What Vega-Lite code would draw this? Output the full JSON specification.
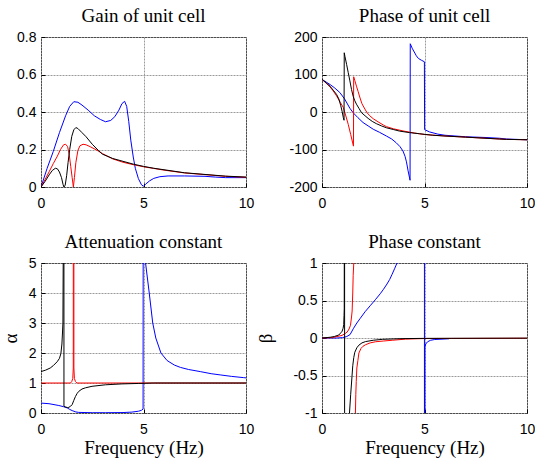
{
  "$schema": "https://vega.github.io/schema/vega-lite/v6.json",
  "padding": {"left": 0, "top": 6, "right": 0, "bottom": 0},
  "background": "#ffffff",
  "bounds": "flush",
  "columns": 2,
  "spacing": 76,
  "datasets": {
    "g": [
      {"s":"b","f":0,"v":0},{"s":"b","f":0.3,"v":0.1},{"s":"b","f":0.6,"v":0.19},{"s":"b","f":0.9,"v":0.29},{"s":"b","f":1.2,"v":0.38},{"s":"b","f":1.4,"v":0.43},{"s":"b","f":1.6,"v":0.455},{"s":"b","f":1.8,"v":0.452},{"s":"b","f":2.0,"v":0.437},{"s":"b","f":2.3,"v":0.41},{"s":"b","f":2.6,"v":0.38},{"s":"b","f":2.9,"v":0.36},{"s":"b","f":3.15,"v":0.348},{"s":"b","f":3.4,"v":0.355},{"s":"b","f":3.6,"v":0.375},{"s":"b","f":3.8,"v":0.41},{"s":"b","f":3.95,"v":0.445},{"s":"b","f":4.08,"v":0.457},{"s":"b","f":4.18,"v":0.43},{"s":"b","f":4.28,"v":0.35},{"s":"b","f":4.38,"v":0.25},{"s":"b","f":4.5,"v":0.16},{"s":"b","f":4.6,"v":0.1},{"s":"b","f":4.75,"v":0.045},{"s":"b","f":4.9,"v":0.012},{"s":"b","f":5.0,"v":0.004},{"s":"b","f":5.1,"v":0.015},{"s":"b","f":5.3,"v":0.033},{"s":"b","f":5.5,"v":0.046},{"s":"b","f":5.8,"v":0.055},{"s":"b","f":6.2,"v":0.059},{"s":"b","f":7.0,"v":0.059},{"s":"b","f":8.0,"v":0.057},{"s":"b","f":8.5,"v":0.053},{"s":"b","f":9.0,"v":0.05},{"s":"b","f":10,"v":0.05},
      {"s":"r","f":0,"v":0},{"s":"r","f":0.2,"v":0.04},{"s":"r","f":0.4,"v":0.082},{"s":"r","f":0.6,"v":0.125},{"s":"r","f":0.8,"v":0.165},{"s":"r","f":0.95,"v":0.2},{"s":"r","f":1.1,"v":0.225},{"s":"r","f":1.2,"v":0.228},{"s":"r","f":1.3,"v":0.215},{"s":"r","f":1.38,"v":0.17},{"s":"r","f":1.45,"v":0.11},{"s":"r","f":1.52,"v":0.05},{"s":"r","f":1.58,"v":0.0},{"s":"r","f":1.63,"v":0.05},{"s":"r","f":1.7,"v":0.13},{"s":"r","f":1.8,"v":0.195},{"s":"r","f":1.9,"v":0.22},{"s":"r","f":2.05,"v":0.228},{"s":"r","f":2.2,"v":0.225},{"s":"r","f":2.4,"v":0.215},{"s":"r","f":2.7,"v":0.198},{"s":"r","f":3.0,"v":0.178},{"s":"r","f":3.5,"v":0.15},{"s":"r","f":4.0,"v":0.132},{"s":"r","f":4.5,"v":0.119},{"s":"r","f":5.0,"v":0.108},{"s":"r","f":5.5,"v":0.099},{"s":"r","f":6.0,"v":0.09},{"s":"r","f":7.0,"v":0.075},{"s":"r","f":8.0,"v":0.066},{"s":"r","f":9.0,"v":0.057},{"s":"r","f":10,"v":0.052},
      {"s":"k","f":0,"v":0},{"s":"k","f":0.2,"v":0.03},{"s":"k","f":0.4,"v":0.065},{"s":"k","f":0.55,"v":0.088},{"s":"k","f":0.7,"v":0.1},{"s":"k","f":0.8,"v":0.097},{"s":"k","f":0.9,"v":0.08},{"s":"k","f":1.0,"v":0.05},{"s":"k","f":1.08,"v":0.012},{"s":"k","f":1.12,"v":0.0},{"s":"k","f":1.18,"v":0.01},{"s":"k","f":1.25,"v":0.06},{"s":"k","f":1.32,"v":0.13},{"s":"k","f":1.4,"v":0.2},{"s":"k","f":1.5,"v":0.27},{"s":"k","f":1.6,"v":0.305},{"s":"k","f":1.7,"v":0.317},{"s":"k","f":1.8,"v":0.312},{"s":"k","f":2.0,"v":0.29},{"s":"k","f":2.2,"v":0.268},{"s":"k","f":2.5,"v":0.228},{"s":"k","f":2.8,"v":0.195},{"s":"k","f":3.0,"v":0.175},{"s":"k","f":3.5,"v":0.152},{"s":"k","f":4.0,"v":0.137},{"s":"k","f":4.5,"v":0.122},{"s":"k","f":5.0,"v":0.11},{"s":"k","f":5.5,"v":0.1},{"s":"k","f":6.0,"v":0.092},{"s":"k","f":7.0,"v":0.076},{"s":"k","f":8.0,"v":0.067},{"s":"k","f":9.0,"v":0.058},{"s":"k","f":10,"v":0.053}
    ],
    "ph": [
      {"s":"b","f":0,"v":87},{"s":"b","f":0.2,"v":80},{"s":"b","f":0.4,"v":73},{"s":"b","f":0.6,"v":65},{"s":"b","f":0.87,"v":52},{"s":"b","f":1.1,"v":35},{"s":"b","f":1.36,"v":10},{"s":"b","f":1.52,"v":-2},{"s":"b","f":1.75,"v":-15},{"s":"b","f":2.0,"v":-28},{"s":"b","f":2.25,"v":-37},{"s":"b","f":2.5,"v":-46},{"s":"b","f":2.8,"v":-54},{"s":"b","f":3.14,"v":-64},{"s":"b","f":3.4,"v":-72},{"s":"b","f":3.62,"v":-82},{"s":"b","f":3.8,"v":-92},{"s":"b","f":3.95,"v":-104},{"s":"b","f":4.05,"v":-118},{"s":"b","f":4.12,"v":-133},{"s":"b","f":4.2,"v":-157},{"s":"b","f":4.295,"v":-182},{"s":"b","f":4.305,"v":182},{"s":"b","f":4.4,"v":170},{"s":"b","f":4.5,"v":160},{"s":"b","f":4.6,"v":150},{"s":"b","f":4.7,"v":143},{"s":"b","f":4.85,"v":138},{"s":"b","f":4.995,"v":134},{"s":"b","f":5.005,"v":-47},{"s":"b","f":5.24,"v":-53},{"s":"b","f":5.65,"v":-59},{"s":"b","f":6.0,"v":-62},{"s":"b","f":7.0,"v":-66},{"s":"b","f":8.0,"v":-68},{"s":"b","f":8.66,"v":-70},{"s":"b","f":9.0,"v":-72},{"s":"b","f":10,"v":-74},
      {"s":"r","f":0,"v":87},{"s":"r","f":0.2,"v":77},{"s":"r","f":0.39,"v":67},{"s":"r","f":0.55,"v":56},{"s":"r","f":0.71,"v":43},{"s":"r","f":0.9,"v":25},{"s":"r","f":1.04,"v":12},{"s":"r","f":1.15,"v":-8},{"s":"r","f":1.28,"v":-33},{"s":"r","f":1.4,"v":-60},{"s":"r","f":1.535,"v":-91},{"s":"r","f":1.545,"v":94},{"s":"r","f":1.6,"v":84},{"s":"r","f":1.68,"v":69},{"s":"r","f":1.76,"v":55},{"s":"r","f":1.84,"v":40},{"s":"r","f":1.95,"v":22},{"s":"r","f":2.09,"v":8},{"s":"r","f":2.2,"v":-2},{"s":"r","f":2.33,"v":-10},{"s":"r","f":2.5,"v":-18},{"s":"r","f":2.73,"v":-26},{"s":"r","f":3.0,"v":-35},{"s":"r","f":3.14,"v":-39},{"s":"r","f":3.5,"v":-45},{"s":"r","f":4.0,"v":-51},{"s":"r","f":4.5,"v":-56},{"s":"r","f":5,"v":-60},{"s":"r","f":6,"v":-64},{"s":"r","f":7,"v":-67},{"s":"r","f":8,"v":-70},{"s":"r","f":9,"v":-73},{"s":"r","f":10,"v":-74},
      {"s":"k","f":0,"v":87},{"s":"k","f":0.2,"v":78},{"s":"k","f":0.39,"v":69},{"s":"k","f":0.55,"v":58},{"s":"k","f":0.71,"v":47},{"s":"k","f":0.82,"v":35},{"s":"k","f":0.91,"v":18},{"s":"k","f":0.98,"v":2},{"s":"k","f":1.04,"v":-15},{"s":"k","f":1.075,"v":-22},{"s":"k","f":1.085,"v":158},{"s":"k","f":1.12,"v":148},{"s":"k","f":1.2,"v":127},{"s":"k","f":1.28,"v":105},{"s":"k","f":1.36,"v":83},{"s":"k","f":1.44,"v":60},{"s":"k","f":1.52,"v":42},{"s":"k","f":1.6,"v":30},{"s":"k","f":1.68,"v":21},{"s":"k","f":1.8,"v":10},{"s":"k","f":1.93,"v":-2},{"s":"k","f":2.1,"v":-10},{"s":"k","f":2.25,"v":-17},{"s":"k","f":2.45,"v":-25},{"s":"k","f":2.65,"v":-31},{"s":"k","f":2.9,"v":-37},{"s":"k","f":3.14,"v":-42},{"s":"k","f":3.5,"v":-47},{"s":"k","f":3.79,"v":-51},{"s":"k","f":4.27,"v":-55},{"s":"k","f":4.76,"v":-58},{"s":"k","f":5.4,"v":-62},{"s":"k","f":6,"v":-64},{"s":"k","f":7,"v":-67},{"s":"k","f":8,"v":-70},{"s":"k","f":8.66,"v":-72},{"s":"k","f":9,"v":-73},{"s":"k","f":10,"v":-74}
    ],
    "a": [
      {"s":"b","f":0,"v":0.33},{"s":"b","f":0.39,"v":0.31},{"s":"b","f":0.87,"v":0.25},{"s":"b","f":1.1,"v":0.21},{"s":"b","f":1.28,"v":0.17},{"s":"b","f":1.4,"v":0.12},{"s":"b","f":1.52,"v":0.08},{"s":"b","f":1.7,"v":0.035},{"s":"b","f":1.84,"v":0.02},{"s":"b","f":2.5,"v":0.01},{"s":"b","f":3.14,"v":0.01},{"s":"b","f":4.0,"v":0.015},{"s":"b","f":4.43,"v":0.03},{"s":"b","f":4.76,"v":0.06},{"s":"b","f":4.9,"v":0.09},{"s":"b","f":4.98,"v":0.13},{"s":"b","f":5.02,"v":60},{"s":"b","f":5.1,"v":5.0},{"s":"b","f":5.28,"v":4.0},{"s":"b","f":5.45,"v":3.0},{"s":"b","f":5.6,"v":2.5},{"s":"b","f":5.85,"v":2.0},{"s":"b","f":6.15,"v":1.75},{"s":"b","f":6.5,"v":1.6},{"s":"b","f":6.8,"v":1.52},{"s":"b","f":7.2,"v":1.45},{"s":"b","f":7.77,"v":1.38},{"s":"b","f":8.3,"v":1.31},{"s":"b","f":8.74,"v":1.27},{"s":"b","f":9.3,"v":1.22},{"s":"b","f":9.87,"v":1.18},{"s":"b","f":10,"v":1.17},
      {"s":"r","f":0,"v":1.0},{"s":"r","f":1.44,"v":1.0},{"s":"r","f":1.5,"v":1.05},{"s":"r","f":1.55,"v":1.15},{"s":"r","f":1.575,"v":1.5},{"s":"r","f":1.59,"v":60},{"s":"r","f":1.605,"v":1.5},{"s":"r","f":1.63,"v":1.15},{"s":"r","f":1.68,"v":1.05},{"s":"r","f":1.75,"v":1.0},{"s":"r","f":10,"v":1.0},
      {"s":"k","f":0,"v":1.38},{"s":"k","f":0.23,"v":1.43},{"s":"k","f":0.45,"v":1.5},{"s":"k","f":0.6,"v":1.58},{"s":"k","f":0.79,"v":1.71},{"s":"k","f":0.9,"v":1.82},{"s":"k","f":0.97,"v":1.98},{"s":"k","f":1.02,"v":2.3},{"s":"k","f":1.05,"v":2.7},{"s":"k","f":1.07,"v":3.0},{"s":"k","f":1.09,"v":6},{"s":"k","f":1.1,"v":60},{"s":"k","f":1.12,"v":0.22},{"s":"k","f":1.2,"v":0.2},{"s":"k","f":1.3,"v":0.18},{"s":"k","f":1.36,"v":0.19},{"s":"k","f":1.45,"v":0.23},{"s":"k","f":1.52,"v":0.28},{"s":"k","f":1.6,"v":0.42},{"s":"k","f":1.68,"v":0.55},{"s":"k","f":1.76,"v":0.65},{"s":"k","f":1.84,"v":0.72},{"s":"k","f":2.0,"v":0.8},{"s":"k","f":2.17,"v":0.84},{"s":"k","f":2.49,"v":0.89},{"s":"k","f":3.14,"v":0.94},{"s":"k","f":3.95,"v":0.97},{"s":"k","f":4.76,"v":0.985},{"s":"k","f":5.5,"v":1.0},{"s":"k","f":10,"v":1.0}
    ],
    "be": [
      {"s":"b","f":0,"v":0},{"s":"b","f":0.72,"v":0.0},{"s":"b","f":1.0,"v":0.005},{"s":"b","f":1.21,"v":0.02},{"s":"b","f":1.37,"v":0.046},{"s":"b","f":1.54,"v":0.13},{"s":"b","f":1.7,"v":0.2},{"s":"b","f":1.86,"v":0.26},{"s":"b","f":2.1,"v":0.35},{"s":"b","f":2.35,"v":0.43},{"s":"b","f":2.6,"v":0.51},{"s":"b","f":2.84,"v":0.59},{"s":"b","f":3.0,"v":0.65},{"s":"b","f":3.17,"v":0.72},{"s":"b","f":3.3,"v":0.78},{"s":"b","f":3.42,"v":0.85},{"s":"b","f":3.55,"v":0.93},{"s":"b","f":3.66,"v":1.0},{"s":"b","f":3.8,"v":1.1},{"s":"b","f":4.5,"v":1.8},{"s":"b","f":4.995,"v":60},{"s":"b","f":5.0,"v":-60},{"s":"b","f":5.02,"v":-0.12},{"s":"b","f":5.06,"v":-0.08},{"s":"b","f":5.15,"v":-0.05},{"s":"b","f":5.3,"v":-0.03},{"s":"b","f":5.5,"v":-0.02},{"s":"b","f":6.2,"v":-0.01},
      {"s":"r","f":0,"v":0},{"s":"r","f":0.5,"v":0.005},{"s":"r","f":0.98,"v":0.035},{"s":"r","f":1.13,"v":0.06},{"s":"r","f":1.23,"v":0.08},{"s":"r","f":1.32,"v":0.12},{"s":"r","f":1.39,"v":0.17},{"s":"r","f":1.44,"v":0.28},{"s":"r","f":1.47,"v":0.36},{"s":"r","f":1.5,"v":0.6},{"s":"r","f":1.52,"v":0.83},{"s":"r","f":1.55,"v":1.0},{"s":"r","f":1.58,"v":2.0},
      {"s":"r2","f":1.62,"v":-2},{"s":"r2","f":1.63,"v":-1.0},{"s":"r2","f":1.65,"v":-0.75},{"s":"r2","f":1.67,"v":-0.58},{"s":"r2","f":1.7,"v":-0.4},{"s":"r2","f":1.75,"v":-0.3},{"s":"r2","f":1.8,"v":-0.2},{"s":"r2","f":1.9,"v":-0.14},{"s":"r2","f":2.0,"v":-0.11},{"s":"r2","f":2.12,"v":-0.09},{"s":"r2","f":2.35,"v":-0.065},{"s":"r2","f":2.61,"v":-0.05},{"s":"r2","f":3.0,"v":-0.04},{"s":"r2","f":3.43,"v":-0.03},{"s":"r2","f":4.08,"v":-0.015},{"s":"r2","f":5,"v":-0.007},{"s":"r2","f":10,"v":-0.003},
      {"s":"k","f":0,"v":0},{"s":"k","f":0.4,"v":0.01},{"s":"k","f":0.6,"v":0.02},{"s":"k","f":0.82,"v":0.04},{"s":"k","f":0.92,"v":0.07},{"s":"k","f":0.98,"v":0.09},{"s":"k","f":1.03,"v":0.13},{"s":"k","f":1.06,"v":0.18},{"s":"k","f":1.075,"v":0.3},{"s":"k","f":1.085,"v":0.39},{"s":"k","f":1.095,"v":3},{"s":"k","f":1.1,"v":60},{"s":"k","f":1.105,"v":-60},{"s":"k","f":1.3,"v":-1.6},{"s":"k","f":1.34,"v":-1.0},{"s":"k","f":1.4,"v":-0.75},{"s":"k","f":1.44,"v":-0.6},{"s":"k","f":1.5,"v":-0.37},{"s":"k","f":1.55,"v":-0.26},{"s":"k","f":1.6,"v":-0.19},{"s":"k","f":1.7,"v":-0.13},{"s":"k","f":1.8,"v":-0.095},{"s":"k","f":1.95,"v":-0.065},{"s":"k","f":2.12,"v":-0.048},{"s":"k","f":2.5,"v":-0.03},{"s":"k","f":2.94,"v":-0.018},{"s":"k","f":3.5,"v":-0.012},{"s":"k","f":4,"v":-0.008},{"s":"k","f":5,"v":-0.005},{"s":"k","f":6.3,"v":-0.004},{"s":"k","f":8,"v":-0.003},{"s":"k","f":10,"v":-0.002}
    ]
  },
  "concat": [
    {
      "width": 205, "height": 150,
      "title": "Gain of unit cell",
      "data": {"name": "g"},
      "encoding": {
        "x": {"field": "f", "type": "quantitative", "scale": {"domain": [0, 10], "nice": false, "zero": false}, "axis": {"values": [0, 5, 10], "title": null}},
        "y": {"field": "v", "type": "quantitative", "scale": {"domain": [0, 0.8], "nice": false, "zero": false}, "axis": {"values": [0, 0.2, 0.4, 0.6, 0.8], "title": null}},
        "detail": {"field": "s"}
      },
      "layer": [
        {"transform": [{"filter": {"field": "s", "oneOf": ["b"]}}], "mark": {"type": "line", "color": "#0000ff", "strokeWidth": 1, "clip": true}},
        {"transform": [{"filter": {"field": "s", "oneOf": ["r", "r2"]}}], "mark": {"type": "line", "color": "#ff0000", "strokeWidth": 1, "clip": true}},
        {"transform": [{"filter": {"field": "s", "oneOf": ["k"]}}], "mark": {"type": "line", "color": "#000000", "strokeWidth": 1, "clip": true}}
      ]
    },
    {
      "width": 205, "height": 150,
      "title": "Phase of unit cell",
      "data": {"name": "ph"},
      "encoding": {
        "x": {"field": "f", "type": "quantitative", "scale": {"domain": [0, 10], "nice": false, "zero": false}, "axis": {"values": [0, 5, 10], "title": null}},
        "y": {"field": "v", "type": "quantitative", "scale": {"domain": [-200, 200], "nice": false, "zero": false}, "axis": {"values": [-200, -100, 0, 100, 200], "title": null}},
        "detail": {"field": "s"}
      },
      "layer": [
        {"transform": [{"filter": {"field": "s", "oneOf": ["b"]}}], "mark": {"type": "line", "color": "#0000ff", "strokeWidth": 1, "clip": true}},
        {"transform": [{"filter": {"field": "s", "oneOf": ["r", "r2"]}}], "mark": {"type": "line", "color": "#ff0000", "strokeWidth": 1, "clip": true}},
        {"transform": [{"filter": {"field": "s", "oneOf": ["k"]}}], "mark": {"type": "line", "color": "#000000", "strokeWidth": 1, "clip": true}}
      ]
    },
    {
      "width": 205, "height": 150,
      "title": "Attenuation constant",
      "data": {"name": "a"},
      "encoding": {
        "x": {"field": "f", "type": "quantitative", "scale": {"domain": [0, 10], "nice": false, "zero": false}, "axis": {"values": [0, 5, 10], "title": "Frequency (Hz)"}},
        "y": {"field": "v", "type": "quantitative", "scale": {"domain": [0, 5], "nice": false, "zero": false}, "axis": {"values": [0, 1, 2, 3, 4, 5], "title": "α", "titlePadding": 8}},
        "detail": {"field": "s"}
      },
      "layer": [
        {"transform": [{"filter": {"field": "s", "oneOf": ["b"]}}], "mark": {"type": "line", "color": "#0000ff", "strokeWidth": 1, "clip": true}},
        {"transform": [{"filter": {"field": "s", "oneOf": ["r", "r2"]}}], "mark": {"type": "line", "color": "#ff0000", "strokeWidth": 1, "clip": true}},
        {"transform": [{"filter": {"field": "s", "oneOf": ["k"]}}], "mark": {"type": "line", "color": "#000000", "strokeWidth": 1, "clip": true}}
      ]
    },
    {
      "width": 205, "height": 150,
      "title": "Phase constant",
      "data": {"name": "be"},
      "encoding": {
        "x": {"field": "f", "type": "quantitative", "scale": {"domain": [0, 10], "nice": false, "zero": false}, "axis": {"values": [0, 5, 10], "title": "Frequency (Hz)"}},
        "y": {"field": "v", "type": "quantitative", "scale": {"domain": [-1, 1], "nice": false, "zero": false}, "axis": {"values": [-1, -0.5, 0, 0.5, 1], "title": "β", "titlePadding": 17}},
        "detail": {"field": "s"}
      },
      "layer": [
        {"transform": [{"filter": {"field": "s", "oneOf": ["b"]}}], "mark": {"type": "line", "color": "#0000ff", "strokeWidth": 1, "clip": true}},
        {"transform": [{"filter": {"field": "s", "oneOf": ["r", "r2"]}}], "mark": {"type": "line", "color": "#ff0000", "strokeWidth": 1, "clip": true}},
        {"transform": [{"filter": {"field": "s", "oneOf": ["k"]}}], "mark": {"type": "line", "color": "#000000", "strokeWidth": 1, "clip": true}}
      ]
    }
  ],
  "config": {
    "view": {"stroke": "#000000", "strokeWidth": 1},
    "axis": {
      "domain": false,
      "grid": true,
      "gridColor": "#9a9a9a",
      "gridDash": [2, 1],
      "gridWidth": 1,
      "ticks": true,
      "tickSize": -4,
      "tickColor": "#000000",
      "labelFont": "Liberation Sans",
      "labelFontSize": 14,
      "labelColor": "#000000",
      "labelExpr": "'' + datum.value",
      "labelFlush": false,
      "labelOverlap": false,
      "titleFont": "Liberation Serif",
      "titleFontSize": 19,
      "titleFontWeight": "normal",
      "titleColor": "#000000"
    },
    "axisX": {"labelPadding": 13, "titlePadding": 2},
    "axisY": {"labelPadding": 9},
    "title": {"font": "Liberation Serif", "fontSize": 19, "fontWeight": "normal", "color": "#000000", "frame": "group", "anchor": "middle", "baseline": "alphabetic", "offset": 4}
  }
}
